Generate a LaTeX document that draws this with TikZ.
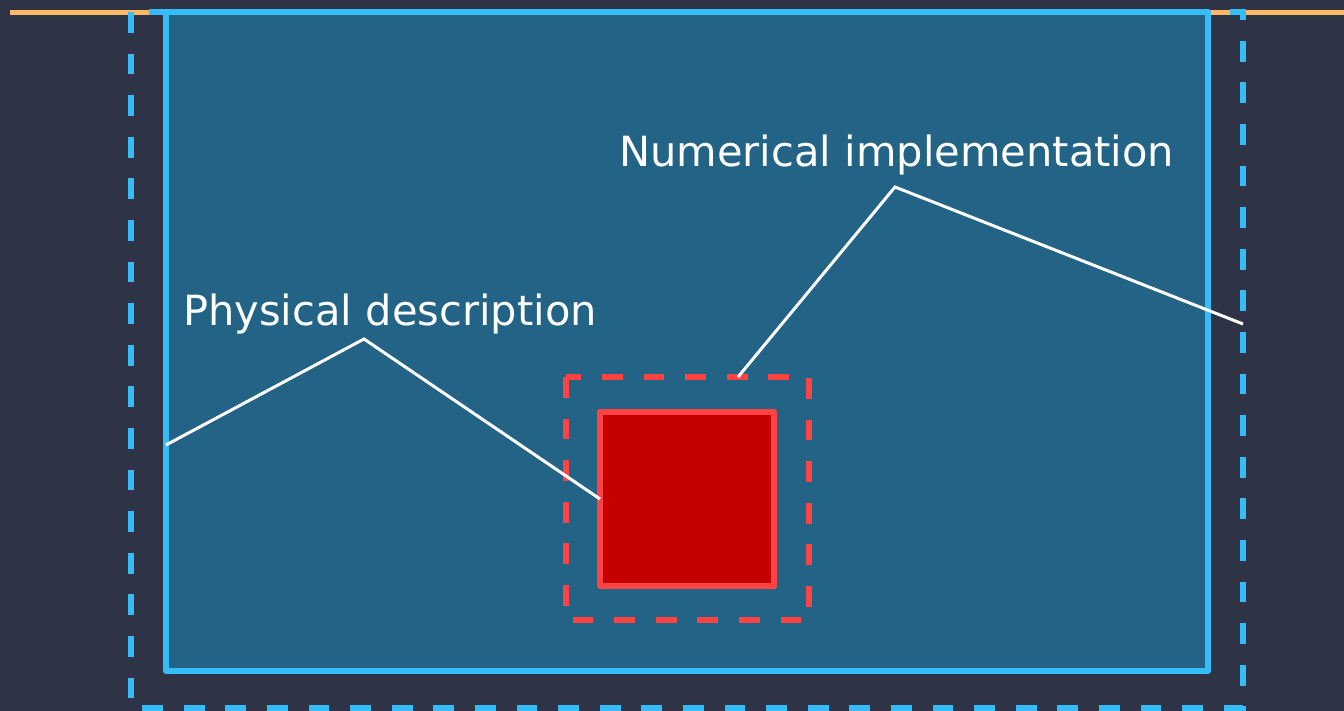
\documentclass[tikz,border=0pt]{standalone}
\usepackage{fontspec}
\setmainfont{DejaVu Sans}
\usetikzlibrary{calc}
\definecolor{bgdark}{RGB}{46,51,70}
\definecolor{panelfill}{RGB}{34,99,134}
\definecolor{skyline}{RGB}{54,188,248}
\definecolor{amber}{RGB}{255,184,101}
\definecolor{redline}{RGB}{255,66,66}
\definecolor{redfill}{RGB}{196,0,0}
\tikzset{
  box/.style={rectangle, inner sep=0pt, outer sep=0pt},
  dashedge/.style={line width=6.5pt, dash pattern=on 20.8pt off 20.8pt, line join=miter},
  label/.style={text=white, inner sep=0pt, anchor=base west, font=\fontsize{41.6}{50}\selectfont},
  leader/.style={draw=white, line width=3pt, line join=miter}
}
\begin{document}
\begin{tikzpicture}[x=1pt, y=-1pt]
  % canvas
  \fill[bgdark] (0,0) rectangle (1344,711);
  \useasboundingbox (0,0) rectangle (1344,711);

  % thin rule along the top
  \coordinate (ruleL) at (10,12.5);
  \coordinate (ruleR) at (1344,12.5);
  \draw[amber, line width=4.5pt] (ruleL) -- (ruleR);

  % outer dashed domain
  \node[box, minimum width=1112pt, minimum height=696pt] (outer) at (687,360) {};
  \draw[skyline, dashedge] (outer.north west) rectangle (outer.south east);

  % inner physical domain
  \node[box, minimum width=1042pt, minimum height=659pt, fill=panelfill,
        draw=skyline, line width=6pt, line join=round] (inner) at (687,341.5) {};

  % labels
  \node[label] (phys) at (183,326) {Physical description};
  \node[label] (numer) at (619,167) {Numerical implementation};

  % dashed numerical region
  \node[box, minimum width=243pt, minimum height=243pt] (region) at (687.5,498.5) {};
  \draw[redline, dashedge] (region.north west) rectangle (region.south east);

  % solid object
  \node[box, minimum width=174pt, minimum height=174pt, fill=redfill,
        draw=redline, line width=6.5pt, line join=round] (obj) at (687,499) {};

  % leader lines
  \coordinate (physA) at (inner.west |- 0,445);
  \coordinate (physPeak) at (364,339);
  \coordinate (numA) at ($(region.north)+(50.5,0)$);
  \coordinate (numPeak) at (895,187);
  \coordinate (numB) at (outer.east |- 0,324);
  \draw[leader] (physA) -- (physPeak) -- (obj.west);
  \draw[leader] (numA) -- (numPeak) -- (numB);
\end{tikzpicture}
\end{document}
